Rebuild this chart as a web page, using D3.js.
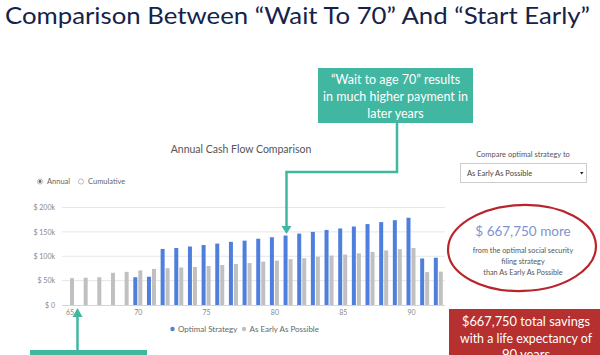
<!DOCTYPE html>
<html><head><meta charset="utf-8">
<script src="https://cdn.jsdelivr.net/npm/d3@7/dist/d3.min.js"></script>
<style>
html,body{margin:0;padding:0;background:#fff;}
svg{display:block;font-family:Lato, "Open Sans", sans-serif;}
</style></head>
<body>
<svg id="c" width="600" height="355"></svg>
<script>
const ages = [65,66,67,68,69,70,71,72,73,74,75,76,77,78,79,80,81,82,83,84,85,86,87,88,89,90,91,92];
const optimal = [0,0,0,0,0,57000,58000,115000,117000,120000,123000,126000,129500,132000,136000,139000,142500,146500,150000,154000,157000,161000,166000,170000,174000,179000,95500,97000];
const early = [55000,56000,57000,66000,68000,71000,74000,75500,77000,78000,80000,82000,84000,86000,89000,91000,94000,96000,99000,101500,103500,106000,109000,112000,114500,117000,67500,68500];
const yTicks = [0,50000,100000,150000,200000];
const xTicks = [65,70,75,80,85,90];
const seriesNames = ["Optimal Strategy","As Early As Possible"];
const colors = ["#4f7fdc","#c0c0c0"];

const svg = d3.select("#c");
const teal = "#41b6a0";

// Title
svg.append("text").attr("x",5).attr("y",24).attr("font-size",23).attr("fill","#15234a")
  .attr("textLength",585).attr("lengthAdjust","spacingAndGlyphs")
  .text("Comparison Between \u201cWait To 70\u201d And \u201cStart Early\u201d");

// Scales
const x = d3.scaleLinear().domain([65,90]).range([69.5,411]);
const y = d3.scaleLinear().domain([0,200000]).range([305,207.5]);
const plotL = 62, plotR = 445;

// Grid
svg.append("g").selectAll("line").data(yTicks.slice(1)).join("line")
  .attr("x1",plotL).attr("x2",plotR).attr("y1",d=>y(d)).attr("y2",d=>y(d))
  .attr("stroke","#e6e6e6").attr("stroke-width",1);
svg.append("line").attr("x1",plotL).attr("x2",plotR).attr("y1",y(0)+0.5).attr("y2",y(0)+0.5)
  .attr("stroke","#ccd6eb");

// Y axis labels
const yAxis = d3.axisLeft(y).tickValues(yTicks).tickSize(0)
  .tickFormat(d=> d===0 ? "$ 0" : "$ " + (d/1000) + "k");
const ya = svg.append("g").attr("transform","translate(58,0)").call(yAxis);
ya.select(".domain").remove();
ya.selectAll("text").attr("font-size",7).attr("fill","#888").attr("font-family","Lato, sans-serif");

// X axis labels
const xAxis = d3.axisBottom(x).tickValues(xTicks).tickSize(0).tickFormat(d3.format("d"));
const xa = svg.append("g").attr("transform","translate(0,306)").call(xAxis);
xa.select(".domain").remove();
xa.selectAll("text").attr("font-size",7).attr("fill","#888").attr("font-family","Lato, sans-serif").attr("dy","0.9em");

// Bars
const bw = 4;
svg.append("g").selectAll("rect").data(ages.map((a,i)=>({a,v:optimal[i]})).filter(d=>d.v>0)).join("rect")
  .attr("x",d=>x(d.a)-4.5).attr("width",bw).attr("y",d=>y(d.v)).attr("height",d=>y(0)-y(d.v))
  .attr("fill",colors[0]);
svg.append("g").selectAll("rect").data(ages.map((a,i)=>({a,v:early[i]}))).join("rect")
  .attr("x",d=>x(d.a)+0.5).attr("width",bw).attr("y",d=>y(d.v)).attr("height",d=>y(0)-y(d.v))
  .attr("fill",colors[1]);

// Chart title
svg.append("text").attr("x",241).attr("y",153).attr("text-anchor","middle").attr("font-size",10.5)
  .attr("fill","#555").text("Annual Cash Flow Comparison");

// Radio
svg.append("circle").attr("cx",40).attr("cy",181.5).attr("r",2.6).attr("fill","none").attr("stroke","#aaa").attr("stroke-width",0.8);
svg.append("circle").attr("cx",40).attr("cy",181.5).attr("r",1.4).attr("fill","#666");
svg.append("text").attr("x",47).attr("y",184.3).attr("font-size",7.5).attr("fill","#666").text("Annual");
svg.append("circle").attr("cx",81).attr("cy",181.5).attr("r",2.6).attr("fill","none").attr("stroke","#aaa").attr("stroke-width",0.8);
svg.append("text").attr("x",88).attr("y",184.3).attr("font-size",7.5).attr("fill","#666").text("Cumulative");

// Legend
const lg = svg.append("g");
const legX = [172.5,244];
seriesNames.forEach((n,i)=>{
  lg.append("circle").attr("cx",legX[i]).attr("cy",329).attr("r",2.2).attr("fill",colors[i]);
  lg.append("text").attr("x",legX[i]+5.5).attr("y",331.8).attr("font-size",8).attr("fill","#666").text(n);
});

// Dropdown
svg.append("text").attr("x",523).attr("y",157).attr("text-anchor","middle").attr("font-size",7.5)
  .attr("fill","#555").text("Compare optimal strategy to");
svg.append("rect").attr("x",460.5).attr("y",163.5).attr("width",126).attr("height",19).attr("fill","#fff")
  .attr("stroke","#ccc").attr("stroke-width",1);
svg.append("text").attr("x",467).attr("y",176).attr("font-size",7.5).attr("fill","#444").text("As Early As Possible");
svg.append("path").attr("d","M580,172 l3.5,0 l-1.75,2.5 z").attr("fill","#222");

// Ellipse annotation
svg.append("ellipse").attr("cx",522).attr("cy",248).attr("rx",74).attr("ry",43)
  .attr("fill","none").attr("stroke","#b8262c").attr("stroke-width",2.2)
  .attr("transform","rotate(-2,522,248)");
svg.append("text").attr("x",523).attr("y",236).attr("text-anchor","middle").attr("font-size",13.5)
  .attr("fill","#7f93cf").text("$ 667,750 more");
["from the optimal social security","filing strategy","than As Early As Possible"].forEach((t,i)=>{
  svg.append("text").attr("x",523).attr("y",252.5+i*11).attr("text-anchor","middle").attr("font-size",7.3)
    .attr("fill","#555").text(t);
});

// Red box
svg.append("rect").attr("x",449).attr("y",309).attr("width",151).attr("height",46).attr("fill","#b5302e");
const redLines = ["$667,750 total savings","with a life expectancy of","90 years"];
const redLens = [128,132,null];
redLines.forEach((t,i)=>{
  const tx = svg.append("text").attr("x",526).attr("y",326+i*16.5).attr("text-anchor","middle").attr("font-size",13)
    .attr("fill","#fff").text(t);
  if (redLens[i]) tx.attr("textLength",redLens[i]).attr("lengthAdjust","spacingAndGlyphs");
});

// Teal annotation box
svg.append("rect").attr("x",318).attr("y",68).attr("width",155).attr("height",55).attr("fill",teal);
["\u201cWait to age 70\u201d results","in much higher payment in","later years"].forEach((t,i)=>{
  svg.append("text").attr("x",395.5).attr("y",84+i*17).attr("text-anchor","middle").attr("font-size",12.5)
    .attr("fill","#fff").text(t);
});
// Connector
svg.append("path").attr("d","M397,123 V172 H286.5 V228").attr("fill","none").attr("stroke",teal).attr("stroke-width",2.5);
svg.append("path").attr("d","M281.5,226 L291.5,226 L286.5,234 Z").attr("fill",teal);

// Bottom-left arrow and box
svg.append("path").attr("d","M77.5,355 V315").attr("stroke",teal).attr("stroke-width",2.5);
svg.append("path").attr("d","M72.5,317 L82.5,317 L77.5,308 Z").attr("fill",teal);
svg.append("rect").attr("x",30).attr("y",350).attr("width",117).attr("height",5).attr("fill",teal);
</script>
</body></html>
